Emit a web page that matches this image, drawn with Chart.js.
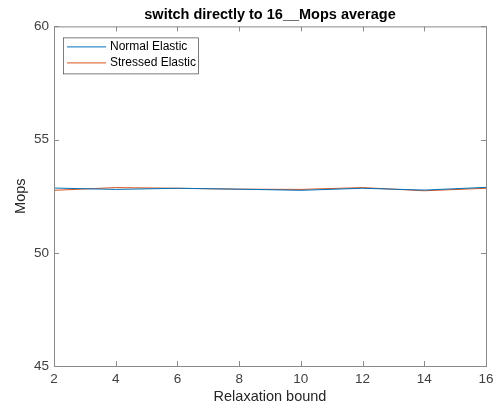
<!DOCTYPE html>
<html>
<head>
<meta charset="utf-8">
<script src="https://cdn.jsdelivr.net/npm/chart.js@4.4.0/dist/chart.umd.min.js"></script>
<style>
  html, body { margin: 0; padding: 0; background: #fff; }
  #wrap { width: 494px; height: 411px; }
</style>
</head>
<body>
<div id="wrap"><canvas id="mopsChart" width="494" height="411"></canvas></div>
<script>
// relaxation bound values on x
const bounds = [2, 4, 6, 8, 10, 12, 14, 16];
// Mops average per series
const normalElastic = [52.86, 52.80, 52.85, 52.81, 52.76, 52.85, 52.77, 52.89];
const stressedElastic = [52.76, 52.88, 52.85, 52.81, 52.80, 52.88, 52.74, 52.85];
const xTicks = [2, 4, 6, 8, 10, 12, 14, 16];
const yTicks = [45, 50, 55, 60];

const FONT = 'Arial, "Liberation Sans", Helvetica, sans-serif';
const axisColor = '#404040';
const boxColor = '#8a8a8a';

function toPoints(xs, ys) {
  return xs.map((x, i) => ({ x, y: ys[i] }));
}

// MATLAB style box, inward ticks and legend
const matlabAxes = {
  id: 'matlabAxes',
  afterDatasetsDraw(chart) {
    const { ctx, chartArea: a, scales } = chart;
    const tl = 5;
    ctx.save();
    ctx.strokeStyle = boxColor;
    ctx.lineWidth = 1;
    ctx.strokeRect(a.left + 0.5, a.top + 0.5, a.right - a.left, a.bottom - a.top);
    ctx.beginPath();
    xTicks.forEach(v => {
      const px = Math.round(scales.x.getPixelForValue(v)) + 0.5;
      ctx.moveTo(px, a.bottom); ctx.lineTo(px, a.bottom - tl);
      ctx.moveTo(px, a.top); ctx.lineTo(px, a.top + tl);
    });
    yTicks.forEach(v => {
      const py = Math.round(scales.y.getPixelForValue(v)) + 0.5;
      ctx.moveTo(a.left, py); ctx.lineTo(a.left + tl, py);
      ctx.moveTo(a.right, py); ctx.lineTo(a.right - tl, py);
    });
    ctx.stroke();

    // legend box
    const lx = a.left + 9, ly = a.top + 11, lw = 135, lh = 36;
    ctx.fillStyle = '#fff';
    ctx.fillRect(lx, ly, lw, lh);
    ctx.strokeStyle = '#262626';
    ctx.lineWidth = 0.6;
    ctx.strokeRect(lx + 0.5, ly + 0.5, lw, lh);
    ctx.font = '12px ' + FONT;
    ctx.textBaseline = 'middle';
    chart.data.datasets.forEach((ds, i) => {
      const ry = ly + 9.5 + i * 16;
      ctx.strokeStyle = ds.borderColor;
      ctx.lineWidth = 1;
      ctx.beginPath();
      ctx.moveTo(lx + 4, ry); ctx.lineTo(lx + 43, ry);
      ctx.stroke();
      ctx.fillStyle = '#000';
      ctx.fillText(ds.label, lx + 47, ry);
    });
    ctx.restore();
  }
};

new Chart(document.getElementById('mopsChart'), {
  type: 'line',
  data: {
    datasets: [
      {
        label: 'Normal Elastic',
        data: toPoints(bounds, normalElastic),
        borderColor: '#0072BD',
        borderWidth: 1,
        pointRadius: 0,
        tension: 0
      },
      {
        label: 'Stressed Elastic',
        data: toPoints(bounds, stressedElastic),
        borderColor: '#D95319',
        borderWidth: 1,
        pointRadius: 0,
        tension: 0
      }
    ]
  },
  options: {
    responsive: false,
    animation: false,
    layout: { padding: { left: 0, right: 8, top: 0, bottom: 0 } },
    plugins: {
      legend: { display: false },
      tooltip: { enabled: false },
      title: {
        display: true,
        fullSize: false,
        text: 'switch directly to 16__Mops average',
        color: '#000',
        font: { family: FONT, size: 14.5, weight: 'bold' },
        padding: { top: 6, bottom: 3 }
      }
    },
    scales: {
      x: {
        type: 'linear',
        min: 2,
        max: 16,
        afterBuildTicks(scale) { scale.ticks = xTicks.map(v => ({ value: v })); },
        afterFit(scale) {
          scale.height = 45;
          scale.paddingLeft = 0;
          scale.paddingRight = 0;
        },
        grid: { display: false, drawTicks: false },
        border: { display: false },
        ticks: {
          padding: 5,
          color: axisColor,
          maxRotation: 0,
          autoSkip: false,
          font: { family: FONT, size: 13.5 }
        },
        title: {
          display: true,
          text: 'Relaxation bound',
          color: '#262626',
          font: { family: FONT, size: 14.5 },
          padding: 5
        }
      },
      y: {
        min: 45,
        max: 60,
        afterBuildTicks(scale) { scale.ticks = yTicks.map(v => ({ value: v })); },
        afterFit(scale) { scale.width = 54; },
        grid: { display: false, drawTicks: false },
        border: { display: false },
        ticks: {
          padding: 5,
          color: axisColor,
          font: { family: FONT, size: 13.5 }
        },
        title: {
          display: true,
          text: 'Mops',
          color: '#262626',
          font: { family: FONT, size: 14.5 },
          padding: 12
        }
      }
    }
  },
  plugins: [matlabAxes]
});
</script>
</body>
</html>
